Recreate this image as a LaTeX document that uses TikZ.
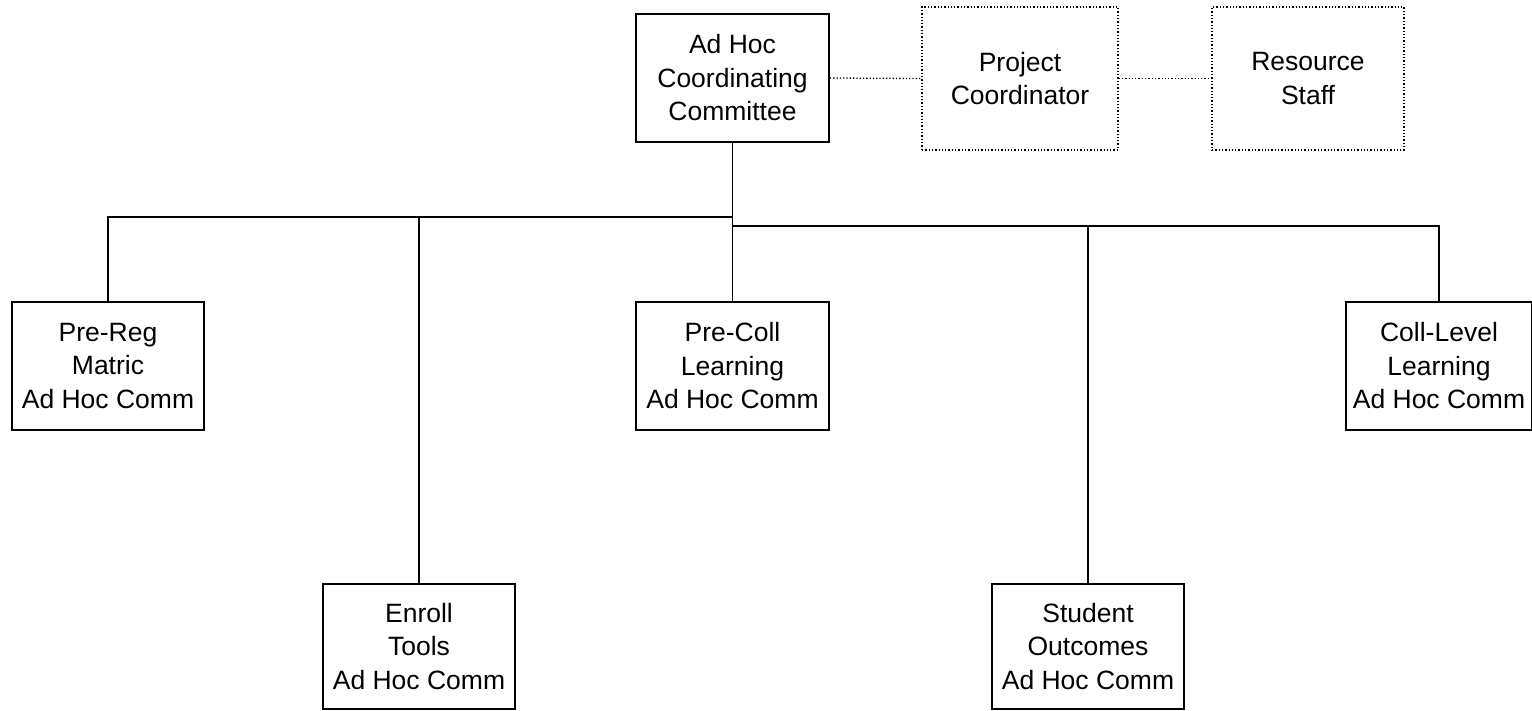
\documentclass[tikz,border=0pt]{standalone}
\usepackage{fontspec}
\setmainfont{Liberation Sans}
\begin{document}
\begin{tikzpicture}[x=1pt,y=-1pt,
  box/.style={draw,line width=1.8pt,inner sep=0pt,align=center,
    font=\fontsize{26.5}{33.5}\selectfont,minimum width=#1},
  box/.default=193pt,
  dotbox/.style={draw,dotted,line width=1.3pt,inner sep=0pt,align=center,
    font=\fontsize{26.5}{33.5}\selectfont},
  conn/.style={line width=1.8pt},
  dconn/.style={dotted,line width=1.3pt}]
\useasboundingbox (0,0) rectangle (1532,710);
\node[box,minimum height=128pt] (top) at (732.5,78) {Ad Hoc\\Coordinating\\Committee};
\node[dotbox,minimum width=196pt,minimum height=143pt] (pc) at (1020,78.5) {Project\\Coordinator};
\node[dotbox,minimum width=192pt,minimum height=143pt] (rs) at (1308,78.5) {Resource\\Staff};
\node[box=192pt,minimum height=128pt] (prereg) at (108,366) {Pre-Reg\\Matric\\Ad Hoc Comm};
\node[box=192pt,minimum height=125pt] (enroll) at (419,646.5) {Enroll\\Tools\\Ad Hoc Comm};
\node[box,minimum height=128pt] (precoll) at (732.5,366) {Pre-Coll\\Learning\\Ad Hoc Comm};
\node[box=192pt,minimum height=125pt] (student) at (1088,646.5) {Student\\Outcomes\\Ad Hoc Comm};
\node[box=186pt,minimum height=128pt] (coll) at (1439,366) {Coll-Level\\Learning\\Ad Hoc Comm};

\draw[dconn] (top.east) -- (pc.west);
\draw[dconn] (pc.east) -- (rs.west);

\coordinate (lb) at (732.5,217);
\coordinate (rb) at (732.5,226);
\draw[conn] (top.south) -- (precoll.north);
\draw[conn] (prereg.north) |- (lb);
\draw[conn] (enroll.north) -- (enroll.north |- lb);
\draw[conn] (coll.north) |- (rb);
\draw[conn] (student.north) -- (student.north |- rb);
\end{tikzpicture}
\end{document}
